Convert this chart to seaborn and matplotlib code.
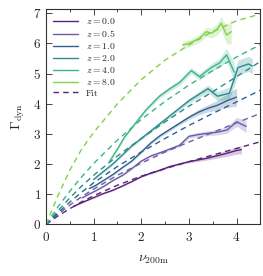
import numpy as np
import seaborn as sns
import matplotlib.pyplot as plt
from matplotlib.ticker import MultipleLocator

sns.set_style("ticks")
plt.rcParams["font.family"] = "serif"
plt.rcParams["font.serif"] = ["cmr10", "DejaVu Serif"]
plt.rcParams["mathtext.fontset"] = "cm"
plt.rcParams["axes.formatter.use_mathtext"] = True
plt.rcParams["axes.unicode_minus"] = False

# redshifts and colours
redshifts = ["0.0", "0.5", "1.0", "2.0", "4.0", "8.0"]
colors = ["#5a2379", "#6a5ea8", "#2f6290", "#2a8c8c", "#3cb489", "#7ed24a"]

# measured curves (median + half width of band)
x_z0 = [0.58, 0.75, 0.9, 1.05, 1.2, 1.4, 1.6, 1.8, 2.0, 2.2, 2.4, 2.6, 2.8, 3.0, 3.2, 3.4, 3.6, 3.8, 4.0, 4.1]
y_z0 = [0.60, 0.72, 0.82, 0.92, 1.02, 1.13, 1.27, 1.42, 1.58, 1.70, 1.80, 1.92, 2.00, 2.08, 2.14, 2.20, 2.28, 2.36, 2.45, 2.48]
e_z0 = [0.02, 0.02, 0.02, 0.02, 0.02, 0.02, 0.02, 0.02, 0.02, 0.03, 0.03, 0.03, 0.03, 0.04, 0.05, 0.06, 0.08, 0.10, 0.12, 0.14]

x_z05 = [0.76, 0.9, 1.05, 1.2, 1.4, 1.6, 1.8, 2.0, 2.2, 2.4, 2.6, 2.8, 3.0, 3.2, 3.4, 3.6, 3.8, 4.0, 4.2]
y_z05 = [0.88, 1.00, 1.12, 1.25, 1.45, 1.62, 1.85, 2.10, 2.27, 2.38, 2.50, 2.62, 2.92, 2.98, 3.02, 3.06, 3.13, 3.40, 3.25]
e_z05 = [0.02, 0.02, 0.02, 0.02, 0.02, 0.02, 0.03, 0.03, 0.03, 0.04, 0.04, 0.05, 0.06, 0.07, 0.08, 0.09, 0.11, 0.15, 0.20]

x_z1 = [0.91, 1.05, 1.2, 1.4, 1.6, 1.8, 2.0, 2.2, 2.4, 2.6, 2.8, 3.0, 3.2, 3.4, 3.6, 3.8, 4.0]
y_z1 = [1.19, 1.30, 1.45, 1.65, 1.88, 2.10, 2.40, 2.70, 2.95, 3.15, 3.35, 3.55, 3.72, 3.85, 3.95, 4.10, 4.22]
e_z1 = [0.02, 0.02, 0.02, 0.03, 0.03, 0.03, 0.04, 0.04, 0.05, 0.05, 0.06, 0.07, 0.09, 0.12, 0.16, 0.22, 0.30]

x_z2 = [1.0, 1.2, 1.4, 1.6, 1.8, 2.0, 2.2, 2.4, 2.6, 2.8, 3.0, 3.2, 3.4, 3.6, 3.85, 4.03, 4.25, 4.33]
y_z2 = [1.49, 1.75, 2.00, 2.30, 2.60, 2.85, 3.10, 3.35, 3.60, 3.85, 4.10, 4.30, 4.50, 4.25, 4.35, 5.20, 5.32, 5.25]
e_z2 = [0.03, 0.03, 0.03, 0.04, 0.04, 0.05, 0.05, 0.06, 0.06, 0.07, 0.08, 0.10, 0.12, 0.15, 0.20, 0.25, 0.25, 0.25]

x_z4 = [1.33, 1.5, 1.65, 1.9, 2.1, 2.38, 2.6, 2.8, 3.05, 3.22, 3.47, 3.64, 3.79, 3.95]
y_z4 = [2.08, 2.50, 2.90, 3.40, 3.80, 4.25, 4.50, 4.70, 5.10, 4.90, 5.20, 5.35, 5.62, 5.05]
e_z4 = [0.04, 0.04, 0.05, 0.05, 0.06, 0.07, 0.08, 0.09, 0.10, 0.11, 0.13, 0.15, 0.22, 0.30]

x_z8 = [2.87, 3.0, 3.12, 3.22, 3.37, 3.47, 3.58, 3.68, 3.79, 3.89]
y_z8 = [5.95, 6.00, 6.09, 6.17, 6.39, 6.34, 6.45, 6.67, 6.28, 6.39]
e_z8 = [0.12, 0.12, 0.13, 0.14, 0.15, 0.16, 0.18, 0.22, 0.30, 0.40]

# fit curves read at fixed nu
fit_x = [0, 0.25, 0.5, 0.75, 1, 1.5, 2, 2.5, 3, 3.5, 4, 4.5]
fit_z0 = [0, 0.28, 0.52, 0.75, 0.95, 1.30, 1.60, 1.85, 2.08, 2.30, 2.52, 2.74]
fit_z05 = [0, 0.33, 0.64, 0.92, 1.17, 1.63, 2.03, 2.40, 2.73, 3.05, 3.37, 3.68]
fit_z1 = [0, 0.38, 0.74, 1.07, 1.38, 1.92, 2.40, 2.85, 3.28, 3.68, 4.06, 4.45]
fit_z2 = [0, 0.45, 0.88, 1.27, 1.63, 2.27, 2.85, 3.40, 3.92, 4.40, 4.90, 5.40]
fit_z4 = [0, 0.58, 1.10, 1.58, 2.02, 2.80, 3.48, 4.08, 4.62, 5.10, 5.55, 5.96]
fit_z8 = [0, 0.95, 1.80, 2.50, 3.05, 4.00, 4.80, 5.45, 5.95, 6.40, 6.75, 6.98]

data_x = [x_z0, x_z05, x_z1, x_z2, x_z4, x_z8]
data_y = [y_z0, y_z05, y_z1, y_z2, y_z4, y_z8]
data_e = [e_z0, e_z05, e_z1, e_z2, e_z4, e_z8]
fits = [fit_z0, fit_z05, fit_z1, fit_z2, fit_z4, fit_z8]

fig, ax = plt.subplots(figsize=(2.63, 2.76), dpi=100)
fig.subplots_adjust(left=0.175, right=0.99, top=0.966, bottom=0.187)

for z, c, xs, ys, es, fy in zip(redshifts, colors, data_x, data_y, data_e, fits):
    xs, ys, es = np.array(xs), np.array(ys), np.array(es)
    ax.fill_between(xs, ys - es, ys + es, color=c, alpha=0.25, lw=0)
    sns.lineplot(x=xs, y=ys, color=c, lw=1.0, ax=ax, label=r"$z = %s$" % z)
    sns.lineplot(x=fit_x, y=fy, color=c, lw=1.0, ax=ax, dashes=False,
                 linestyle=(0, (4, 3)))

ax.plot([], [], color=colors[0], lw=1.0, linestyle=(0, (4, 3)), label="Fit")

ax.set_xlim(0, 4.5)
ax.set_ylim(0, 7.13)
ax.xaxis.set_major_locator(MultipleLocator(1))
ax.xaxis.set_minor_locator(MultipleLocator(0.5))
ax.yaxis.set_major_locator(MultipleLocator(1))
ax.tick_params(which="both", direction="in", top=True, right=True, labelsize=9.5, width=0.6)
ax.tick_params(which="major", length=4)
ax.tick_params(which="minor", length=2)
ax.tick_params(axis="x", pad=5)
for s in ax.spines.values():
    s.set_linewidth(0.8)
    s.set_color("#333333")

ax.set_xlabel(r"$\nu_{\rm 200m}$", fontsize=10, labelpad=7)
ax.set_ylabel(r"$\Gamma_{\rm dyn}$", fontsize=10)
ax.legend(loc="upper left", frameon=False, fontsize=7, handlelength=2.6,
          labelspacing=0.2, borderaxespad=0.3)

plt.savefig("out.png", dpi=100)
